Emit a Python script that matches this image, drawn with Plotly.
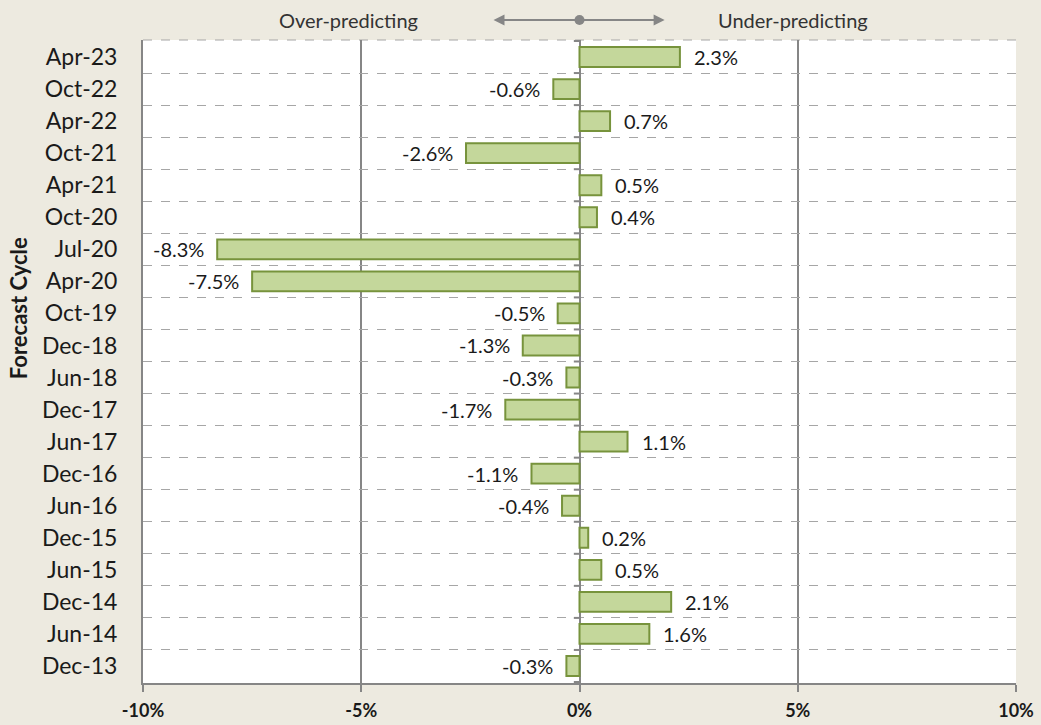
import plotly.graph_objects as go

# Forecast cycles, listed top to bottom
cycles = ["Apr-23", "Oct-22", "Apr-22", "Oct-21", "Apr-21", "Oct-20", "Jul-20", "Apr-20",
          "Oct-19", "Dec-18", "Jun-18", "Dec-17", "Jun-17", "Dec-16", "Jun-16", "Dec-15",
          "Jun-15", "Dec-14", "Jun-14", "Dec-13"]
# Forecast error (%) per cycle
errors = [2.3, -0.6, 0.7, -2.6, 0.5, 0.4, -8.3, -7.5, -0.5, -1.3, -0.3, -1.7, 1.1, -1.1,
          -0.4, 0.2, 0.5, 2.1, 1.6, -0.3]
x_ticks = [-10, -5, 0, 5, 10]

FONT = "Lato"
GRAY = "#868686"
TEXT = "#1a1a1a"

fig = go.Figure(go.Bar(
    x=errors, y=cycles, orientation="h",
    marker=dict(color="#C4D79B", line=dict(color="#77933C", width=2)),
    width=0.62,
    hoverinfo="x+y",
))

# value labels just beyond each bar end
for c, v in zip(cycles, errors):
    fig.add_annotation(xref="x", yref="y", x=v, y=c, text=f"{v:.1f}%",
                       showarrow=False, xanchor="left" if v >= 0 else "right",
                       xshift=12 if v >= 0 else -11,
                       font=dict(family=FONT, size=20, color=TEXT))

# small tick marks on the zero line at each category boundary
n = len(cycles)
for k in range(n + 1):
    fig.add_shape(type="line", xref="x", yref="y",
                  x0=-0.13, x1=0, y0=k - 0.5, y1=k - 0.5,
                  line=dict(color=GRAY, width=2))

# dashed top border of the plot area
fig.add_shape(type="line", xref="paper", yref="paper", x0=0, x1=1, y0=1, y1=1,
              line=dict(color="#A6A6A6", width=1, dash="dash"), layer="below")

# direction indicator above the plot
yp = 1.031
for head in (1.95, -1.97):
    fig.add_annotation(xref="x", yref="paper", x=head, y=yp,
                       ax=-head * 43.65, ay=0, axref="pixel", ayref="pixel",
                       showarrow=True, arrowhead=2, arrowsize=1.1, arrowwidth=2,
                       arrowcolor=GRAY, text="")
fig.add_shape(type="circle", xref="x", yref="paper", xsizemode="pixel", ysizemode="pixel",
              xanchor=0, yanchor=yp, x0=-5, x1=5, y0=-5, y1=5,
              fillcolor=GRAY, line=dict(color=GRAY, width=0))
fig.add_annotation(xref="x", yref="paper", x=-5.3, y=yp, text="Over-predicting",
                   showarrow=False, yanchor="middle",
                   font=dict(family=FONT, size=20, color="#333333"))
fig.add_annotation(xref="x", yref="paper", x=4.9, y=yp, text="Under-predicting",
                   showarrow=False, yanchor="middle",
                   font=dict(family=FONT, size=20, color="#333333"))

# axis title
fig.add_annotation(xref="paper", yref="paper", x=0, y=0.583, xshift=-125,
                   text="<b>Forecast Cycle</b>", textangle=-90, showarrow=False,
                   xanchor="center", yanchor="middle",
                   font=dict(family=FONT, size=22, color=TEXT))

fig.update_layout(
    width=1041, height=725,
    margin=dict(l=143, r=25, t=40, b=42),
    paper_bgcolor="#EDEAE0",
    plot_bgcolor="white",
    showlegend=False,
    xaxis=dict(
        range=[-10, 10], tickvals=x_ticks, ticktext=[f"{v}%" for v in x_ticks],
        tickfont=dict(family=FONT, size=18, color=TEXT, weight="bold"),
        showgrid=True, gridcolor=GRAY, gridwidth=2,
        zeroline=True, zerolinecolor=GRAY, zerolinewidth=2,
        showline=True, linecolor=GRAY, linewidth=2,
        ticks="outside", ticklen=7, tickwidth=2, tickcolor=GRAY,
        ticklabelstandoff=3, automargin=False,
    ),
    yaxis=dict(
        categoryorder="array", categoryarray=cycles, autorange="reversed",
        tickson="boundaries", ticks="",
        showgrid=True, gridcolor="#A6A6A6", gridwidth=1, griddash="dash",
        showline=True, linecolor=GRAY, linewidth=2,
        tickfont=dict(family=FONT, size=23, color=TEXT),
        ticklabelstandoff=19, automargin=False,
    ),
)

fig.write_html("out.html")
